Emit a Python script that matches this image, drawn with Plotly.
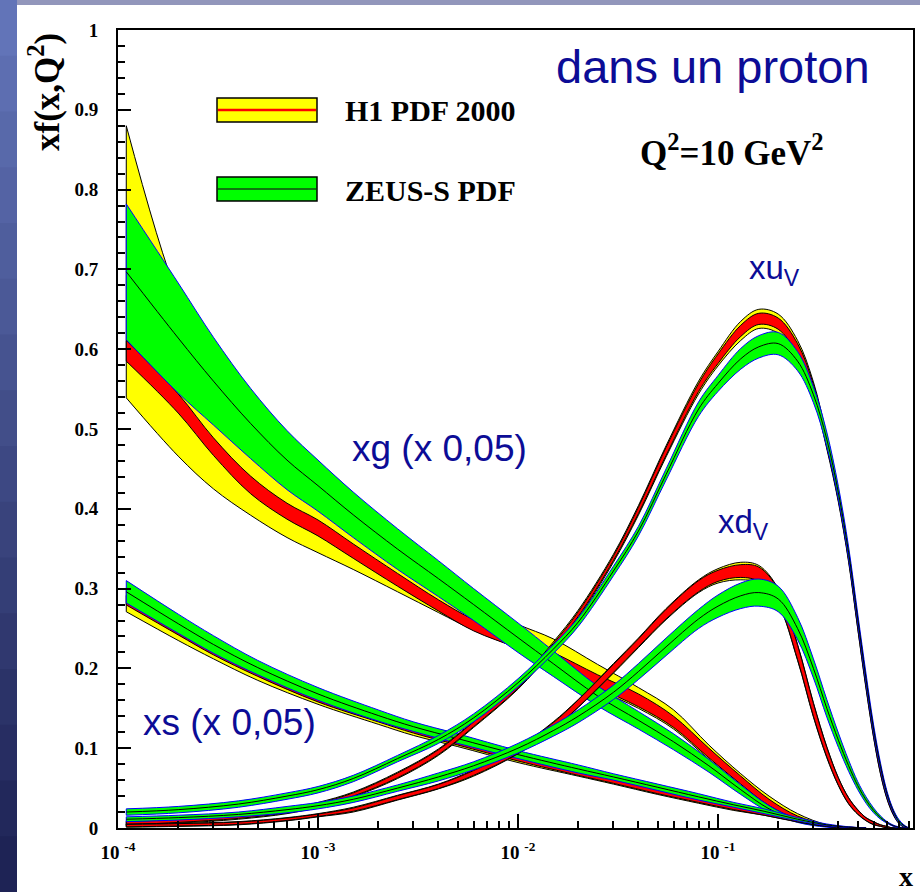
import numpy as np
import plotly.graph_objects as go

# ---------------- data ----------------
# gluon (x 0.05)
X_G = [1.1e-4, 2e-4, 3e-4, 4.6e-4, 7e-4, 1e-3, 1.5e-3, 2.5e-3, 4e-3, 6e-3, 1e-2,
       1.5e-2, 2.5e-2, 4e-2, 6e-2, 0.09, 0.13, 0.18, 0.25, 0.35, 0.45]
H1_G_TOT_HI = [0.88, 0.665, 0.58, 0.52, 0.47, 0.435, 0.395, 0.35, 0.31, 0.28, 0.255,
               0.237, 0.205, 0.176, 0.148, 0.104, 0.068, 0.04, 0.018, 0.004, 0.0]
H1_G_TOT_LO = [0.539, 0.466, 0.425, 0.392, 0.364, 0.345, 0.324, 0.296, 0.27, 0.248, 0.225,
               0.204, 0.174, 0.150, 0.124, 0.086, 0.053, 0.027, 0.011, 0.002, 0.0]
H1_G_EXP = [0.598, 0.532, 0.478, 0.430, 0.397, 0.376, 0.347, 0.311, 0.279, 0.254, 0.232,
            0.212, 0.184, 0.160, 0.133, 0.094, 0.060, 0.032, 0.013, 0.003, 0.0]
H1_G_EXP_ERR = [0.013, 0.012, 0.011, 0.011, 0.010, 0.010, 0.009, 0.008, 0.007, 0.007, 0.007,
                0.008, 0.008, 0.008, 0.007, 0.006, 0.005, 0.004, 0.002, 0.001, 0.0]
ZEUS_G = [0.697, 0.614, 0.56, 0.507, 0.461, 0.429, 0.3925, 0.3495, 0.3125, 0.28, 0.2385,
          0.206, 0.1655, 0.135, 0.108, 0.078, 0.048, 0.024, 0.009, 0.002, 0.0]
ZEUS_G_ERR = [0.085, 0.069, 0.055, 0.044, 0.037, 0.032, 0.0285, 0.0255, 0.0225, 0.020, 0.0185,
              0.016, 0.0125, 0.011, 0.010, 0.008, 0.006, 0.004, 0.002, 0.001, 0.0]

# strange (x 0.05)
X_S = [1.1e-4, 2e-4, 3e-4, 5e-4, 1e-3, 2e-3, 3e-3, 5e-3, 1e-2, 2e-2, 3e-2, 5e-2,
       8e-2, 0.12, 0.17, 0.25, 0.35, 0.45, 0.55]
ZEUS_S = [0.296, 0.256, 0.230, 0.201, 0.168, 0.141, 0.127, 0.112, 0.092, 0.074, 0.064, 0.051,
          0.039, 0.029, 0.021, 0.011, 0.004, 0.001, 0.0]
ZEUS_S_ERR = [0.014, 0.012, 0.011, 0.009, 0.008, 0.007, 0.006, 0.006, 0.005, 0.005, 0.004, 0.004,
              0.004, 0.003, 0.003, 0.002, 0.001, 0.0005, 0.0]
H1_S = [0.2855, 0.247, 0.222, 0.194, 0.162, 0.136, 0.122, 0.107, 0.087, 0.069, 0.059, 0.046,
        0.034, 0.025, 0.018, 0.009, 0.003, 0.0008, 0.0]
H1_S_TOT_ERR = [0.0145, 0.012, 0.010, 0.009, 0.007, 0.006, 0.006, 0.005, 0.005, 0.004, 0.004, 0.004,
                0.003, 0.003, 0.002, 0.0015, 0.001, 0.0005, 0.0]
H1_S_EXP_ERR = [0.006, 0.005, 0.005, 0.004, 0.004, 0.003, 0.003, 0.003, 0.003, 0.003, 0.003, 0.003,
                0.002, 0.002, 0.002, 0.001, 0.0007, 0.0003, 0.0]

# valence quarks
X_V = [1.1e-4, 2e-4, 4e-4, 7e-4, 1e-3, 1.5e-3, 2.5e-3, 4e-3, 6e-3, 1e-2, 1.5e-2, 2e-2,
       3e-2, 4e-2, 5.5e-2, 8e-2, 0.1, 0.13, 0.16, 0.2, 0.25, 0.3, 0.35, 0.4, 0.45, 0.5,
       0.55, 0.6, 0.65, 0.7, 0.75, 0.8, 0.85, 0.9]
H1_UV = [0.006, 0.009, 0.014, 0.021, 0.029, 0.042, 0.066, 0.095, 0.13, 0.178, 0.228, 0.268,
         0.338, 0.398, 0.472, 0.552, 0.588, 0.623, 0.638, 0.632, 0.6, 0.55, 0.483, 0.415, 0.34, 0.255,
         0.18, 0.118, 0.072, 0.04, 0.02, 0.008, 0.002, 0.0]
H1_UV_TOT_ERR = [0.003, 0.003, 0.003, 0.003, 0.003, 0.003, 0.004, 0.004, 0.004, 0.004, 0.005, 0.005,
                 0.005, 0.006, 0.007, 0.008, 0.009, 0.012, 0.012, 0.012, 0.011, 0.009, 0.008, 0.007, 0.007, 0.006,
                 0.006, 0.005, 0.005, 0.004, 0.003, 0.002, 0.001, 0.0]
H1_UV_EXP_ERR = [0.002, 0.002, 0.002, 0.002, 0.002, 0.002, 0.003, 0.003, 0.003, 0.003, 0.003, 0.003,
                 0.003, 0.004, 0.005, 0.005, 0.006, 0.007, 0.007, 0.007, 0.007, 0.006, 0.006, 0.005, 0.005, 0.005,
                 0.004, 0.004, 0.004, 0.003, 0.002, 0.0015, 0.0008, 0.0]
ZEUS_UV = [0.020, 0.023, 0.030, 0.040, 0.048, 0.062, 0.087, 0.111, 0.138, 0.182, 0.224, 0.258,
           0.322, 0.372, 0.443, 0.525, 0.557, 0.588, 0.603, 0.607, 0.585, 0.543, 0.487, 0.42, 0.345, 0.262,
           0.187, 0.124, 0.077, 0.043, 0.022, 0.009, 0.003, 0.0]
ZEUS_UV_ERR = [0.004, 0.004, 0.004, 0.004, 0.004, 0.004, 0.004, 0.005, 0.005, 0.005, 0.0055, 0.0055,
               0.006, 0.006, 0.007, 0.009, 0.010, 0.013, 0.014, 0.014, 0.012, 0.010, 0.009, 0.008, 0.007, 0.006,
               0.006, 0.005, 0.004, 0.003, 0.002, 0.002, 0.001, 0.0]
H1_DV = [0.003, 0.004, 0.006, 0.011, 0.016, 0.023, 0.038, 0.052, 0.069, 0.097, 0.128, 0.156,
         0.2, 0.232, 0.268, 0.303, 0.316, 0.322, 0.318, 0.29, 0.22, 0.148, 0.095, 0.058, 0.034, 0.02,
         0.011, 0.006, 0.003, 0.001, 0.0, 0.0, 0.0, 0.0]
H1_DV_TOT_ERR = [0.002, 0.002, 0.002, 0.002, 0.002, 0.003, 0.003, 0.003, 0.004, 0.004, 0.005, 0.005,
                 0.006, 0.006, 0.007, 0.008, 0.009, 0.011, 0.011, 0.010, 0.010, 0.009, 0.007, 0.005, 0.004, 0.003,
                 0.002, 0.002, 0.001, 0.001, 0.0, 0.0, 0.0, 0.0]
H1_DV_EXP_ERR = [0.0015, 0.0015, 0.0015, 0.0015, 0.0015, 0.002, 0.0025, 0.0025, 0.003, 0.0035, 0.004, 0.0045,
                 0.005, 0.005, 0.006, 0.007, 0.007, 0.008, 0.009, 0.009, 0.009, 0.008, 0.006, 0.0045, 0.0035, 0.0025,
                 0.0017, 0.0015, 0.0008, 0.0008, 0.0, 0.0, 0.0, 0.0]
ZEUS_DV = [0.011, 0.013, 0.017, 0.023, 0.028, 0.036, 0.05, 0.064, 0.078, 0.100, 0.122, 0.140,
           0.170, 0.196, 0.227, 0.262, 0.278, 0.291, 0.295, 0.287, 0.25, 0.2, 0.15, 0.11, 0.078, 0.053,
           0.035, 0.022, 0.013, 0.007, 0.003, 0.001, 0.0, 0.0]
ZEUS_DV_ERR = [0.003, 0.003, 0.003, 0.004, 0.004, 0.004, 0.004, 0.005, 0.005, 0.006, 0.007, 0.008,
               0.009, 0.010, 0.011, 0.012, 0.014, 0.016, 0.017, 0.016, 0.014, 0.012, 0.011, 0.009, 0.007, 0.005,
               0.004, 0.003, 0.002, 0.001, 0.0008, 0.0005, 0.0, 0.0]

X_TICKS = [1e-4, 1e-3, 1e-2, 1e-1]
X_TICK_TEXT = ["10 <sup>-4</sup>", "10 <sup>-3</sup>", "10 <sup>-2</sup>", "10 <sup>-1</sup>"]

# ---------------- layout geometry ----------------
W, H = 920, 892
ML, MR, MT, MB = 118, 7, 30, 64
PW, PH = W - ML - MR, H - MT - MB


def pxx(p):
    return (p - ML) / PW


def pxy(p):
    return (H - MB - p) / PH


YELLOW, RED, GREEN, BLUE = "#ffff00", "#ff0000", "#00ff00", "#0000ff"
TXT_BLUE = "#0c0c96"

fig = go.Figure()


def band(x, lo, hi, fill, edge, width=1.0):
    ln = dict(color=edge, width=width, shape="spline", smoothing=1.0)
    fig.add_trace(go.Scatter(x=x, y=lo, mode="lines", line=ln, hoverinfo="skip", showlegend=False))
    fig.add_trace(go.Scatter(x=x, y=hi, mode="lines", line=ln, fill="tonexty", fillcolor=fill,
                             hoverinfo="skip", showlegend=False))
    fig.add_trace(go.Scatter(x=[x[0], x[0]], y=[lo[0], hi[0]], mode="lines",
                             line=dict(color=edge, width=width), hoverinfo="skip", showlegend=False))


def central(x, y, color="black", width=1.0):
    fig.add_trace(go.Scatter(x=x, y=y, mode="lines",
                             line=dict(color=color, width=width, shape="spline", smoothing=1.0),
                             hoverinfo="skip", showlegend=False))


def h1(x, c, tot, exp):
    c, tot, exp = np.array(c), np.array(tot), np.array(exp)
    band(x, c - tot, c + tot, YELLOW, "black")
    band(x, c - exp, c + exp, RED, "black")


def zeus(x, c, err):
    c, err = np.array(c), np.array(err)
    band(x, c - err, c + err, GREEN, BLUE)
    central(x, c)


# gluon
band(X_G, H1_G_TOT_LO, H1_G_TOT_HI, YELLOW, "black")
gexp, gerr = np.array(H1_G_EXP), np.array(H1_G_EXP_ERR)
band(X_G, gexp - gerr, gexp + gerr, RED, "black")
zeus(X_G, ZEUS_G, ZEUS_G_ERR)
# strange
h1(X_S, H1_S, H1_S_TOT_ERR, H1_S_EXP_ERR)
zeus(X_S, ZEUS_S, ZEUS_S_ERR)
# valence
h1(X_V, H1_UV, H1_UV_TOT_ERR, H1_UV_EXP_ERR)
zeus(X_V, ZEUS_UV, ZEUS_UV_ERR)
h1(X_V, H1_DV, H1_DV_TOT_ERR, H1_DV_EXP_ERR)
zeus(X_V, ZEUS_DV, ZEUS_DV_ERR)

# ---------------- slide background strips ----------------
shapes = []
n = 16
top_c = np.array([0x62, 0x74, 0xb8])
bot_c = np.array([0x1e, 0x23, 0x55])
for i in range(n):
    t = i / (n - 1)
    col = (top_c * (1 - t) + bot_c * t).astype(int)
    y0 = H * i / n
    y1 = H * (i + 1) / n + 1
    shapes.append(dict(type="rect", xref="paper", yref="paper", x0=pxx(0), x1=pxx(17),
                       y0=pxy(y1), y1=pxy(y0), fillcolor="rgb(%d,%d,%d)" % tuple(col),
                       line=dict(width=0), layer="below"))
shapes.append(dict(type="rect", xref="paper", yref="paper", x0=pxx(17), x1=pxx(W),
                   y0=pxy(5), y1=pxy(0), fillcolor="#9296bb", line=dict(width=0), layer="below"))

# legend boxes
shapes.append(dict(type="rect", xref="paper", yref="paper", x0=pxx(217), x1=pxx(317),
                   y0=pxy(122), y1=pxy(98), fillcolor=YELLOW, line=dict(color="black", width=1.5)))
shapes.append(dict(type="line", xref="paper", yref="paper", x0=pxx(218), x1=pxx(316),
                   y0=pxy(110), y1=pxy(110), line=dict(color=RED, width=2.5)))
shapes.append(dict(type="rect", xref="paper", yref="paper", x0=pxx(217), x1=pxx(317),
                   y0=pxy(201), y1=pxy(177), fillcolor=GREEN, line=dict(color="black", width=1.5)))
shapes.append(dict(type="line", xref="paper", yref="paper", x0=pxx(218), x1=pxx(316),
                   y0=pxy(189), y1=pxy(189), line=dict(color="#124a12", width=1.5)))

serif_b = dict(family="Liberation Serif", color="black", weight="bold")
ann = []


def text(t, x, y, size, font, xanchor="left", angle=0):
    f = dict(font)
    f["size"] = size
    ann.append(dict(text=t, xref="paper", yref="paper", x=pxx(x), y=pxy(y), xanchor=xanchor,
                    yanchor="middle", showarrow=False, font=f, textangle=angle))


sans_blue = dict(family="Liberation Sans", color=TXT_BLUE)
text("H1 PDF 2000", 343, 111, 30, serif_b)
text("ZEUS-S PDF", 343, 190, 30, serif_b)
text("dans un proton", 713, 67, 47, sans_blue, xanchor="center")
text("Q<sup>2</sup>=10 GeV<sup>2</sup>", 638, 150, 35, serif_b)
text("xu<sub>V</sub>", 747, 270, 33, sans_blue)
text("xd<sub>V</sub>", 716, 524, 33, sans_blue)
text("xg (x 0,05)", 350, 448, 37, sans_blue)
text("xs (x 0,05)", 141, 722, 37, sans_blue)
text("xf(x,Q<sup>2</sup>)", 44, 92, 35, serif_b, xanchor="center", angle=-90)
text("x", 906, 876, 28, serif_b, xanchor="center")

fig.update_layout(
    width=W, height=H,
    margin=dict(l=ML, r=MR, t=MT, b=MB, pad=0, autoexpand=False),
    paper_bgcolor="white", plot_bgcolor="white",
    showlegend=False,
    shapes=shapes, annotations=ann,
    xaxis=dict(type="log", range=[-4, -0.025], showgrid=False, zeroline=False, automargin=False,
               showline=True, linecolor="black", linewidth=2, mirror=True,
               ticks="inside", ticklen=14, tickwidth=2, tickcolor="black",
               tickmode="array", tickvals=X_TICKS, ticktext=X_TICK_TEXT,
               tickfont=dict(family="Liberation Serif", size=19, color="black", weight="bold"),
               ticklabelstandoff=6,
               minor=dict(ticks="inside", ticklen=7, tickwidth=2, tickcolor="black",
                          tickmode="array",
                          tickvals=[k * 10.0 ** e for e in range(-4, 0) for k in range(2, 10)],
                          showgrid=False)),
    yaxis=dict(range=[0, 1], showgrid=False, zeroline=False, automargin=False,
               showline=True, linecolor="black", linewidth=2, mirror=True,
               ticks="inside", ticklen=13, tickwidth=2, tickcolor="black",
               dtick=0.1, tick0=0,
               tickfont=dict(family="Liberation Serif", size=19, color="black", weight="bold"),
               ticklabelstandoff=14,
               minor=dict(ticks="inside", ticklen=7, tickwidth=2, tickcolor="black",
                          dtick=0.02, showgrid=False)),
)

fig.write_html(
    "out.html",
    config={"displayModeBar": False},
    post_script="document.body.style.margin='0px';"
                "document.documentElement.style.overflow='hidden';",
)
